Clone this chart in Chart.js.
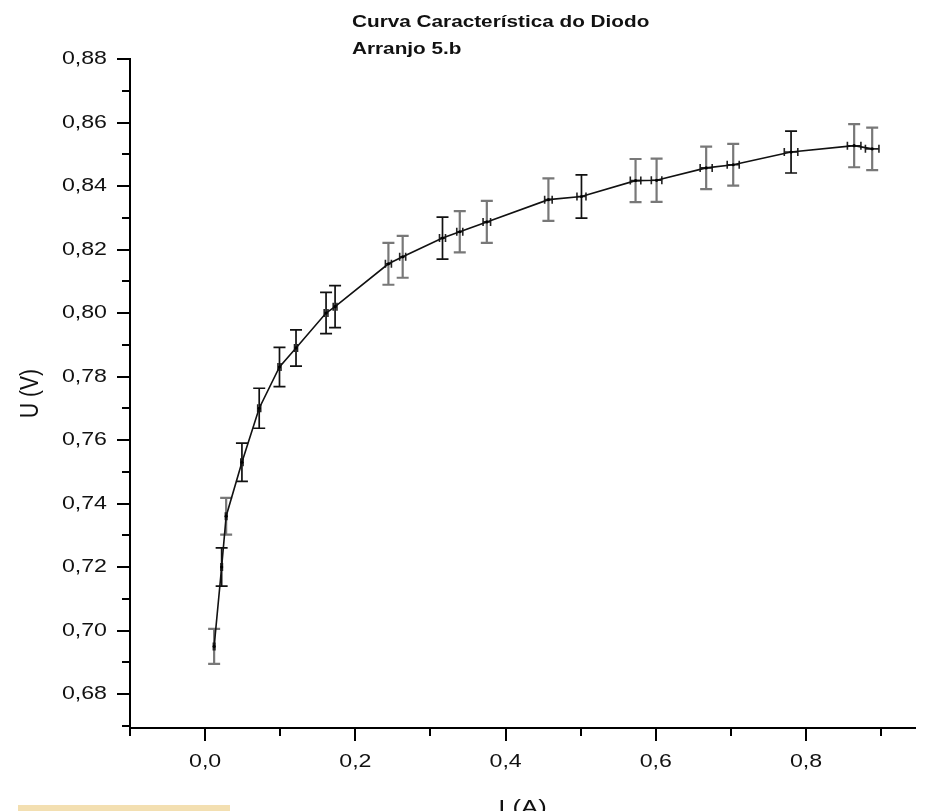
<!DOCTYPE html>
<html>
<head>
<meta charset="utf-8">
<title>Curva Característica do Diodo</title>
<script src="https://cdn.jsdelivr.net/npm/chart.js@4/dist/chart.umd.min.js"></script>
<style>
  html, body { margin: 0; padding: 0; background: #ffffff; overflow: hidden; }
  #wrap { position: relative; width: 926px; height: 811px; }
</style>
</head>
<body>
<div id="wrap"><canvas id="chart" width="926" height="811"></canvas></div>
<script>
// Measured diode characteristic: current I (A) and voltage U (V) with uncertainties
const currentA = [0.012, 0.022, 0.028, 0.049, 0.072, 0.099, 0.121, 0.161, 0.173, 0.244, 0.263, 0.316,
                  0.339, 0.375, 0.457, 0.501, 0.573, 0.601, 0.667, 0.703, 0.780, 0.864, 0.888];
const voltageV = [0.695, 0.720, 0.736, 0.753, 0.770, 0.783, 0.789, 0.800, 0.802, 0.8155, 0.8177, 0.8236,
                  0.8256, 0.8287, 0.8357, 0.8367, 0.8417, 0.8418, 0.8457, 0.8467, 0.8507, 0.8527, 0.8517];
const currentErr = [0.001, 0.001, 0.001, 0.0015, 0.002, 0.002, 0.002, 0.0025, 0.0025, 0.004, 0.004, 0.004,
                    0.004, 0.005, 0.005, 0.006, 0.007, 0.007, 0.008, 0.008, 0.009, 0.009, 0.009];
const voltageErr = [0.0055, 0.006, 0.0058, 0.006, 0.0063, 0.0062, 0.0057, 0.0065, 0.0066, 0.0066, 0.0066, 0.0066,
                    0.0065, 0.0066, 0.0067, 0.0068, 0.0068, 0.0068, 0.0067, 0.0066, 0.0066, 0.0068, 0.0067];

// Tick values (in hundredths of a volt and tenths of an ampere)
const yTickSteps = [67, 68, 69, 70, 71, 72, 73, 74, 75, 76, 77, 78, 79, 80, 81, 82, 83, 84, 85, 86, 87, 88];
const xTickSteps = [-1, 0, 1, 2, 3, 4, 5, 6, 7, 8, 9];

const titleLines = ['Curva Característica do Diodo', 'Arranjo 5.b'];
const xTitle = 'I (A)';
const yTitle = 'U (V)';

// Styling: which error bars are drawn in grey
const greyBar = [1, 0, 1, 0, 0, 0, 0, 0, 0, 1, 1, 0, 1, 1, 1, 0, 1, 1, 1, 1, 0, 1, 1];

const STRETCH = 1.22;
const LABEL_FONT = '19px "Liberation Sans", Arial, sans-serif';

function stretchedText(ctx, text, x, y, align, baseline, font, rot) {
  ctx.save();
  ctx.translate(x, y);
  ctx.scale(STRETCH, 1);
  if (rot) ctx.rotate(rot);
  ctx.font = font;
  ctx.textAlign = align;
  ctx.textBaseline = baseline;
  ctx.fillStyle = '#111111';
  ctx.fillText(text, 0, 0);
  ctx.restore();
}

const errorBars = {
  id: 'errorBars',
  beforeDatasetsDraw(chart) {
    const { ctx, scales: { x, y } } = chart;
    ctx.save();
    for (let i = 0; i < currentA.length; i++) {
      const px = x.getPixelForValue(currentA[i]);
      const py = y.getPixelForValue(voltageV[i]);
      const yTop = y.getPixelForValue(voltageV[i] + voltageErr[i]);
      const yBot = y.getPixelForValue(voltageV[i] - voltageErr[i]);
      const xL = x.getPixelForValue(currentA[i] - currentErr[i]);
      const xR = x.getPixelForValue(currentA[i] + currentErr[i]);
      const grey = greyBar[i] === 1;
      ctx.strokeStyle = grey ? 'rgba(105,105,105,0.9)' : '#111111';
      ctx.lineWidth = grey ? 2.2 : 1.7;
      ctx.beginPath();
      ctx.moveTo(px, yTop); ctx.lineTo(px, yBot);
      ctx.moveTo(px - 6, yTop); ctx.lineTo(px + 6, yTop);
      ctx.moveTo(px - 6, yBot); ctx.lineTo(px + 6, yBot);
      ctx.stroke();
      ctx.strokeStyle = '#222222';
      ctx.lineWidth = 1.6;
      ctx.beginPath();
      ctx.moveTo(xL, py); ctx.lineTo(xR, py);
      ctx.moveTo(xL, py - 4); ctx.lineTo(xL, py + 4);
      ctx.moveTo(xR, py - 4); ctx.lineTo(xR, py + 4);
      ctx.stroke();
    }
    ctx.restore();
  }
};

const axisDecor = {
  id: 'axisDecor',
  afterDraw(chart) {
    const { ctx, chartArea: area, scales: { x, y } } = chart;
    ctx.save();
    ctx.strokeStyle = '#000000';
    ctx.lineWidth = 2;
    ctx.beginPath();
    // y ticks
    yTickSteps.forEach(k => {
      const py = Math.round(y.getPixelForValue(k / 100));
      const major = k % 2 === 0;
      ctx.moveTo(area.left - 1, py);
      ctx.lineTo(area.left - (major ? 13 : 8), py);
    });
    // x ticks
    xTickSteps.forEach(k => {
      const px = Math.round(x.getPixelForValue(k / 10));
      const major = k % 2 === 0;
      ctx.moveTo(px, area.bottom + 1);
      ctx.lineTo(px, area.bottom + (major ? 13 : 8));
    });
    ctx.stroke();
    ctx.restore();

    yTickSteps.forEach(k => {
      if (k % 2 !== 0) return;
      const py = y.getPixelForValue(k / 100);
      stretchedText(ctx, (k / 100).toFixed(2).replace('.', ','), area.left - 23, py, 'right', 'middle', LABEL_FONT);
    });
    xTickSteps.forEach(k => {
      if (k % 2 !== 0 || k < 0) return;
      const px = x.getPixelForValue(k / 10);
      stretchedText(ctx, (k / 10).toFixed(1).replace('.', ','), px, area.bottom + 39, 'center', 'alphabetic', LABEL_FONT);
    });

    // axis titles
    stretchedText(ctx, yTitle, 31, (area.top + area.bottom) / 2, 'center', 'middle',
                  '21px "Liberation Sans", Arial, sans-serif', -Math.PI / 2);
    stretchedText(ctx, xTitle, (area.left + area.right) / 2, area.bottom + 86, 'center', 'alphabetic',
                  '21px "Liberation Sans", Arial, sans-serif');

    // chart title
    stretchedText(ctx, titleLines[0], 352, 27, 'left', 'alphabetic', 'bold 17px "Liberation Sans", Arial, sans-serif');
    stretchedText(ctx, titleLines[1], 352, 54, 'left', 'alphabetic', 'bold 17px "Liberation Sans", Arial, sans-serif');

    // small tan strip at the lower-left edge
    ctx.save();
    ctx.fillStyle = '#f3dfb1';
    ctx.fillRect(18, 805, 212, 6);
    ctx.restore();
  }
};

const points = currentA.map((v, i) => ({ x: v, y: voltageV[i] }));

new Chart(document.getElementById('chart'), {
  type: 'scatter',
  data: {
    datasets: [{
      data: points,
      showLine: true,
      borderColor: '#111111',
      borderWidth: 1.6,
      tension: 0,
      pointRadius: 1.6,
      pointBackgroundColor: '#000000',
      pointBorderWidth: 0,
      clip: false
    }]
  },
  options: {
    responsive: false,
    devicePixelRatio: 1,
    animation: false,
    events: [],
    layout: { padding: { left: 130, right: 11, top: 59, bottom: 83 } },
    plugins: { legend: { display: false }, tooltip: { enabled: false }, title: { display: false } },
    scales: {
      x: {
        type: 'linear',
        min: -0.1,
        max: 0.945,
        grid: { display: false, drawTicks: false },
        ticks: { display: false },
        border: { display: true, color: '#000000', width: 2 },
        afterFit(scale) { scale.height = 0; }
      },
      y: {
        type: 'linear',
        min: 0.6693,
        max: 0.88,
        grid: { display: false, drawTicks: false },
        ticks: { display: false },
        border: { display: true, color: '#000000', width: 2 },
        afterFit(scale) { scale.width = 0; }
      }
    }
  },
  plugins: [errorBars, axisDecor]
});
</script>
</body>
</html>
